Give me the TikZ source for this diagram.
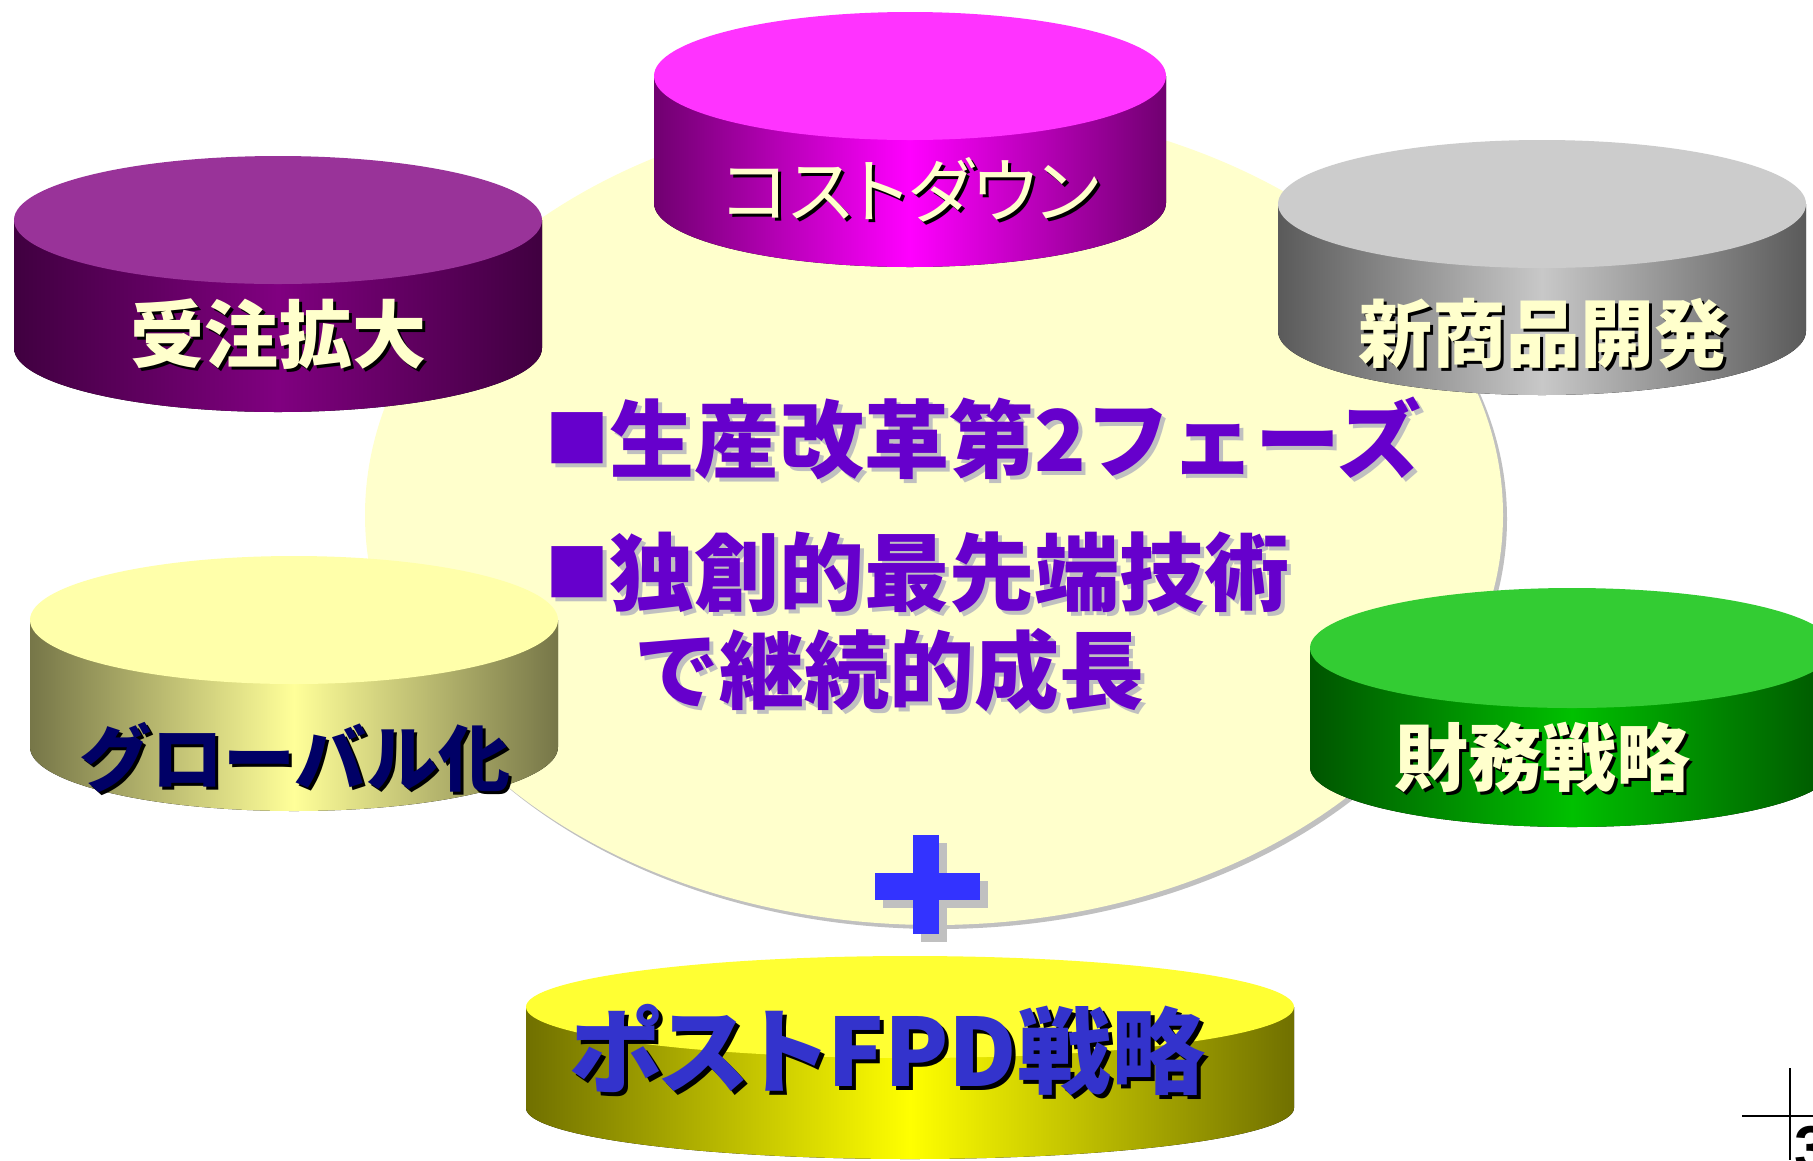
\documentclass[tikz,border=0pt]{standalone}
\usepackage{fontspec}
\newfontfamily\jp{Noto Sans CJK JP}
\newfontfamily\jpp{Noto Sans CJK JP}[RawFeature=+palt]
\newfontfamily\numfont{Liberation Sans}
\definecolor{cream}{HTML}{FFFFCC}
\definecolor{bigfill}{HTML}{FFFFCC}
\definecolor{shadowgray}{HTML}{C0C0C0}
\definecolor{mainpurple}{HTML}{6600CC}
\definecolor{plusblue}{HTML}{3333FF}
\definecolor{navytext}{HTML}{000066}
\definecolor{fpdblue}{HTML}{3333CC}
\definecolor{aTop}{HTML}{993399}\definecolor{aEdge}{HTML}{400040}\definecolor{aMid}{HTML}{800080}
\definecolor{bTop}{HTML}{FF33FF}\definecolor{bEdge}{HTML}{700070}\definecolor{bMid}{HTML}{FF00FF}
\definecolor{cTop}{HTML}{CCCCCC}\definecolor{cEdge}{HTML}{5A5A5A}\definecolor{cMid}{HTML}{C8C8C8}
\definecolor{dTop}{HTML}{FFFFAA}\definecolor{dEdge}{HTML}{767648}\definecolor{dMid}{HTML}{FFFF99}
\definecolor{eTop}{HTML}{33CC33}\definecolor{eEdge}{HTML}{005500}\definecolor{eMid}{HTML}{00C000}
\definecolor{fTop}{HTML}{FFFF33}\definecolor{fEdge}{HTML}{707000}\definecolor{fMid}{HTML}{FFFF00}
% cylinder: #1 cx, #2 top cy, #3 rx, #4 ry, #5 side height, #6 top colour, #7 edge colour, #8 middle colour
\newcommand{\drumshape}[8]{%
  \fill[left color=#7, right color=#7, middle color=#8]
    (#1-#3,-#2) -- (#1-#3,-#2-#5)
    arc[start angle=180, end angle=360, x radius=#3, y radius=#4]
    -- (#1+#3,-#2) -- cycle;
  \fill[#6] (#1,-#2) ellipse[x radius=#3, y radius=#4];
}
% text with shadow: #1 name, #2 x, #3 y, #4 dx, #5 dy, #6 style, #7 shadow colour, #8 text
\newcommand{\shadowtext}[8]{%
  \node[#6, text=#7] (#1s) at (#2+#4,-#3-#5) {#8};
  \node[#6] (#1) at (#2,-#3) {#8};
}
\tikzset{
  lab/.style={inner sep=0pt, text=cream, font={\jp\bfseries\fontsize{74}{80}\selectfont}},
  labp/.style={inner sep=0pt, text=cream, font={\jpp\fontsize{71}{80}\selectfont}},
  navylab/.style={inner sep=0pt, text=navytext, font={\jp\bfseries\fontsize{72}{80}\selectfont}},
  fpdlab/.style={inner sep=0pt, text=fpdblue, font={\jpp\bfseries\fontsize{94}{100}\selectfont}},
  mtext/.style={inner sep=0pt, anchor=west, text=mainpurple, font={\jp\bfseries\fontsize{85}{90}\selectfont}},
  mbullet/.style={inner sep=0pt, text=mainpurple, font={\jp\fontsize{64}{64}\selectfont}},
}
\begin{document}
\begin{tikzpicture}[x=1pt,y=1pt]
\useasboundingbox (0,0) rectangle (1813,-1160);
\clip (0,0) rectangle (1813,-1160);
\fill[white] (0,0) rectangle (1813,-1160);
% central ellipse with shadow
\fill[shadowgray] (938,-519) ellipse[x radius=569, y radius=410];
\fill[bigfill] (934,-515) ellipse[x radius=569, y radius=410];
% cylinders
\drumshape{278}{220}{264}{64}{128}{aTop}{aEdge}{aMid}
\drumshape{910}{76}{256}{64}{127}{bTop}{bEdge}{bMid}
\drumshape{1542}{204}{264}{64}{127}{cTop}{cEdge}{cMid}
\drumshape{294}{620}{264}{64}{127}{dTop}{dEdge}{dMid}
\drumshape{1572}{648}{262}{60}{119}{eTop}{eEdge}{eMid}
\drumshape{910}{1007}{384}{51}{101}{fTop}{fEdge}{fMid}
% plus sign
\fill[shadowgray] (921,-843) rectangle (947,-942);
\fill[shadowgray] (883,-881) rectangle (988,-908);
\fill[plusblue] (913,-835) rectangle (939,-934);
\fill[plusblue] (875,-873) rectangle (980,-900);
% cylinder labels
\shadowtext{juchu}{278}{334}{3}{3}{lab}{black}{受注拡大}
\shadowtext{cost}{911}{190}{3}{3}{labp}{black}{コストダウン}
\shadowtext{shin}{1543}{334}{3}{3}{lab}{black}{新商品開発}
\shadowtext{glob}{295}{757}{3}{3}{navylab}{black}{グローバル化}
\shadowtext{zaimu}{1542}{757}{3}{3}{lab}{black}{財務戦略}
\shadowtext{post}{887}{1050}{4}{4}{fpdlab}{black}{ポストFPD戦略}
% central text
\shadowtext{bulA}{577}{438}{4}{4}{mbullet}{shadowgray}{■}
\shadowtext{lineA}{609}{438}{4}{4}{mtext}{shadowgray}{生産改革第2フェーズ}
\shadowtext{bulB}{577}{572}{4}{4}{mbullet}{shadowgray}{■}
\shadowtext{lineB}{609}{572}{4}{4}{mtext}{shadowgray}{独創的最先端技術}
\shadowtext{lineC}{634}{670}{4}{4}{mtext}{shadowgray}{で継続的成長}
% corner mark and page number
\coordinate (hA) at (1742,-1116);
\coordinate (hB) at (1813,-1116);
\coordinate (vA) at (1790,-1068);
\coordinate (vB) at (1790,-1160);
\draw[line width=2pt] (hA) -- (hB);
\draw[line width=2pt] (vA) -- (vB);
\node[anchor=north west, inner sep=0pt, font={\numfont\bfseries\fontsize{62}{62}\selectfont}] (pg) at (1794,-1126) {3};
\end{tikzpicture}
\end{document}
